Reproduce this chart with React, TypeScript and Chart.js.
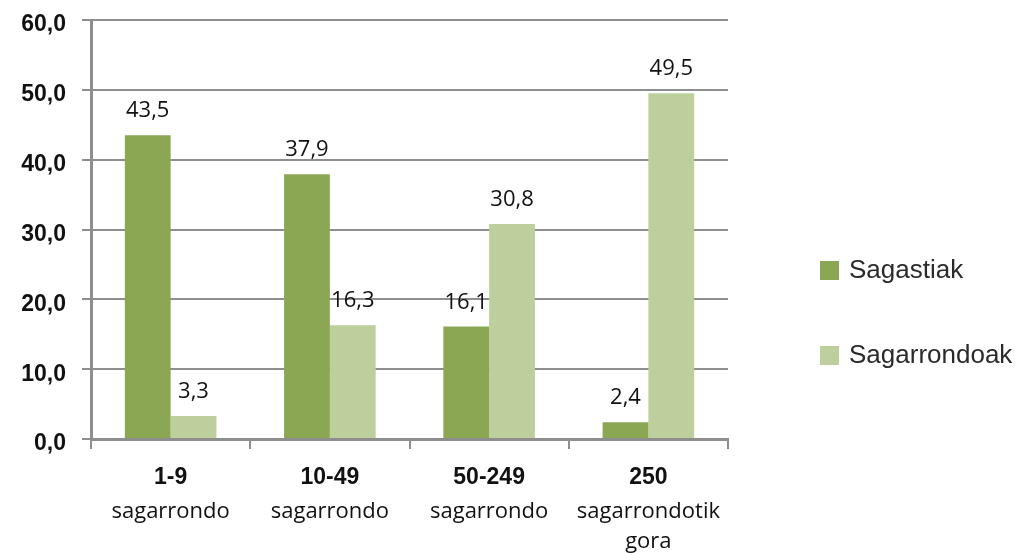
import React, { useEffect, useRef } from 'react';
import { Chart, registerables } from 'chart.js';

Chart.register(...registerables);

// ---- Data ----
const categoryTop = ['1-9', '10-49', '50-249', '250'];
const categoryBottom: (string | string[])[] = ['sagarrondo', 'sagarrondo', 'sagarrondo', ['sagarrondotik', 'gora']];
const seriesNames = ['Sagastiak', 'Sagarrondoak'];
const sagastiak = [43.5, 37.9, 16.1, 2.4];
const sagarrondoak = [3.3, 16.3, 30.8, 49.5];
const yMin = 0;
const yMax = 60;
const yStep = 10;

// ---- Styles ----
const darkGreen = '#8BA753';
const lightGreen = '#BDCF9C';
const axisGray = '#8E8E8E';
const textColor = '#111111';

const fmt = (v: number) => Number(v).toFixed(1).replace('.', ',');

const valueLabels = {
  id: 'valueLabels',
  afterDatasetsDraw(chart: any) {
    const ctx = chart.ctx;
    ctx.save();
    ctx.font = '22px "Open Sans"';
    ctx.fillStyle = textColor;
    ctx.textAlign = 'center';
    ctx.textBaseline = 'alphabetic';
    chart.data.datasets.forEach((ds: any, di: number) => {
      const meta = chart.getDatasetMeta(di);
      meta.data.forEach((el: any, i: number) => {
        ctx.fillText(fmt(ds.data[i]), el.x, el.y - 18);
      });
    });
    ctx.restore();
  },
};

const sideLegend = {
  id: 'sideLegend',
  afterDraw(chart: any) {
    const ctx = chart.ctx;
    ctx.save();
    ctx.font = '26px "Liberation Sans", Arial, sans-serif';
    ctx.textAlign = 'left';
    ctx.textBaseline = 'middle';
    chart.data.datasets.forEach((ds: any, di: number) => {
      const top = 261 + di * 85;
      ctx.fillStyle = ds.backgroundColor;
      ctx.fillRect(820, top, 19, 19);
      ctx.fillStyle = '#2a2a2a';
      ctx.fillText(ds.label, 849, top + 10);
    });
    ctx.restore();
  },
};

export default function App() {
  const canvasRef = useRef<HTMLCanvasElement | null>(null);

  useEffect(() => {
    if (!canvasRef.current) return;
    const chart = new Chart(canvasRef.current, {
      type: 'bar',
      data: {
        labels: categoryTop,
        datasets: [
          { label: seriesNames[0], data: sagastiak, backgroundColor: darkGreen, xAxisID: 'x', yAxisID: 'y' },
          { label: seriesNames[1], data: sagarrondoak, backgroundColor: lightGreen, xAxisID: 'x', yAxisID: 'y' },
        ],
      },
      options: {
        responsive: false,
        animation: false,
        events: [],
        layout: { padding: { top: 20, right: 287, bottom: 0, left: 0 } },
        datasets: { bar: { categoryPercentage: 0.575, barPercentage: 1 } },
        plugins: {
          legend: { display: false },
          tooltip: { enabled: false },
          title: { display: false },
        },
        scales: {
          x: {
            type: 'category',
            labels: categoryTop,
            position: 'bottom',
            offset: true,
            afterFit(scale: any) {
              scale.paddingLeft = 0;
              scale.paddingRight = 0;
              scale.height = 46;
            },
            grid: {
              offset: true,
              drawOnChartArea: false,
              drawTicks: true,
              tickLength: 10,
              color: axisGray,
              lineWidth: 2,
            },
            border: { color: axisGray, width: 3 },
            ticks: {
              font: { family: '"Liberation Sans", Arial, sans-serif', weight: 'bold', size: 23 },
              color: textColor,
              padding: 15,
              maxRotation: 0,
              autoSkip: false,
            },
          },
          x2: {
            type: 'category',
            labels: categoryBottom as any,
            position: 'bottom',
            offset: true,
            afterFit(scale: any) {
              scale.paddingLeft = 0;
              scale.paddingRight = 0;
              scale.height = 68;
            },
            grid: { display: false, drawTicks: false },
            border: { display: false },
            ticks: {
              font: { family: '"Open Sans", sans-serif', size: 22, lineHeight: 1.35 },
              color: textColor,
              padding: 12,
              maxRotation: 0,
              autoSkip: false,
            },
          },
          y: {
            min: yMin,
            max: yMax,
            afterFit(scale: any) {
              scale.width = 91;
              scale.paddingTop = 0;
              scale.paddingBottom = 0;
            },
            ticks: {
              stepSize: yStep,
              callback: (v: any) => fmt(Number(v)),
              font: { family: '"Liberation Sans", Arial, sans-serif', weight: 'bold', size: 23 },
              color: textColor,
              padding: 16,
              labelOffset: 5,
            },
            grid: { color: axisGray, lineWidth: 2, tickLength: 9 },
            border: { color: axisGray, width: 3 },
          },
        },
      } as any,
      plugins: [valueLabels, sideLegend],
    });
    return () => chart.destroy();
  }, []);

  return (
    <div style={{ position: 'absolute', left: 0, top: 0, width: 1015, height: 553, background: '#fff' }}>
      <canvas ref={canvasRef} width={1015} height={553} style={{ display: 'block' }} />
    </div>
  );
}
